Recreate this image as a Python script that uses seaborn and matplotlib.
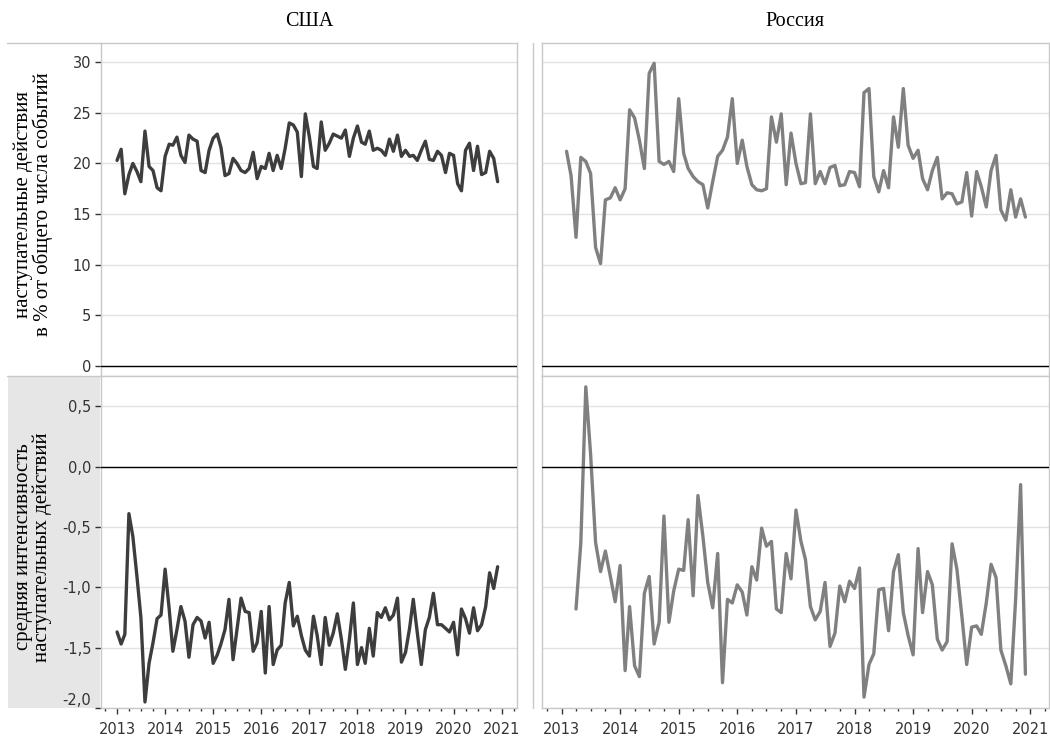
import matplotlib
matplotlib.use("Agg")
import matplotlib.pyplot as plt
import matplotlib.dates as mdates
from matplotlib.ticker import FuncFormatter
from matplotlib.patches import Rectangle
from matplotlib.lines import Line2D
import pandas as pd
import seaborn as sns

# monthly series
usa_share_start = "2013-01-01"
usa_share = [
    20.3, 21.4, 17.0, 18.9, 20.0, 19.2, 18.2, 23.2, 19.7, 19.3, 17.6, 17.3,
    20.7, 21.9, 21.8, 22.6, 20.8, 20.1, 22.8, 22.4, 22.2, 19.3, 19.1, 21.3,
    22.5, 22.9, 21.6, 18.8, 19.0, 20.5, 20.0, 19.3, 19.1, 19.5, 21.1, 18.5,
    19.7, 19.5, 21.0, 19.3, 20.8, 19.5, 21.5, 24.0, 23.8, 23.1, 18.7, 24.9,
    22.6, 19.7, 19.5, 24.1, 21.3, 22.0, 22.9, 22.7, 22.5, 23.3, 20.7, 22.5,
    23.7, 22.1, 21.9, 23.2, 21.3, 21.5, 21.3, 20.8, 22.4, 21.2, 22.8, 20.7,
    21.3, 20.7, 20.8, 20.3, 21.3, 22.2, 20.4, 20.3, 21.2, 20.8, 19.1, 21.0,
    20.8, 18.0, 17.3, 21.3, 22.0, 19.3, 21.7, 18.9, 19.1, 21.2, 20.5, 18.2,
]

usa_intensity_start = "2013-01-01"
usa_intensity = [
    -1.37, -1.47, -1.39, -0.39, -0.58, -0.91, -1.25, -1.95, -1.63, -1.46, -1.26, -1.23,
    -0.85, -1.18, -1.53, -1.35, -1.16, -1.28, -1.58, -1.31, -1.25, -1.28, -1.42, -1.29,
    -1.63, -1.56, -1.47, -1.35, -1.10, -1.60, -1.35, -1.09, -1.20, -1.21, -1.53, -1.46,
    -1.20, -1.71, -1.16, -1.64, -1.52, -1.48, -1.13, -0.96, -1.32, -1.24, -1.40, -1.52,
    -1.57, -1.24, -1.40, -1.64, -1.25, -1.48, -1.38, -1.22, -1.43, -1.68, -1.43, -1.13,
    -1.64, -1.50, -1.63, -1.34, -1.57, -1.21, -1.25, -1.17, -1.27, -1.23, -1.09, -1.62,
    -1.54, -1.34, -1.10, -1.38, -1.64, -1.35, -1.25, -1.05, -1.31, -1.31, -1.34, -1.37,
    -1.29, -1.56, -1.18, -1.26, -1.38, -1.17, -1.36, -1.31, -1.16, -0.88, -1.01, -0.83,
]

rus_share_start = "2013-02-01"
rus_share = [
    21.2, 18.8, 12.7, 20.6, 20.2, 19.0, 11.7, 10.1, 16.4, 16.6, 17.6,
    16.4, 17.5, 25.3, 24.5, 22.3, 19.5, 28.9, 29.9, 20.2, 19.9, 20.2, 19.2,
    26.4, 21.0, 19.5, 18.7, 18.2, 17.9, 15.6, 18.2, 20.7, 21.3, 22.6, 26.4,
    20.0, 22.3, 19.7, 17.9, 17.4, 17.3, 17.5, 24.6, 22.1, 24.9, 17.9, 23.0,
    20.0, 18.0, 18.1, 24.9, 18.0, 19.2, 18.0, 19.6, 19.8, 17.8, 17.9, 19.2,
    19.1, 17.7, 27.0, 27.4, 18.7, 17.2, 19.3, 17.6, 24.6, 21.6, 27.4, 21.8,
    20.5, 21.3, 18.5, 17.4, 19.3, 20.6, 16.5, 17.1, 17.0, 16.0, 16.2, 19.1,
    14.8, 19.2, 17.7, 15.7, 19.3, 20.8, 15.4, 14.4, 17.4, 14.7, 16.5, 14.7,
]

rus_intensity_start = "2013-04-01"
rus_intensity = [
    -1.18, -0.63, 0.66, 0.10, -0.63, -0.87, -0.70, -0.91, -1.12,
    -0.82, -1.69, -1.16, -1.65, -1.74, -1.05, -0.91, -1.47, -1.29, -0.41, -1.29, -1.03,
    -0.85, -0.86, -0.44, -1.07, -0.24, -0.58, -0.96, -1.17, -0.72, -1.79, -1.10, -1.13,
    -0.98, -1.04, -1.23, -0.83, -0.94, -0.51, -0.66, -0.62, -1.18, -1.21, -0.72, -0.93,
    -0.36, -0.62, -0.77, -1.16, -1.27, -1.20, -0.96, -1.49, -1.38, -0.99, -1.12, -0.95,
    -1.01, -0.84, -1.91, -1.64, -1.55, -1.02, -1.01, -1.36, -0.87, -0.73, -1.21, -1.40,
    -1.56, -0.68, -1.21, -0.87, -0.98, -1.43, -1.52, -1.45, -0.64, -0.85, -1.24, -1.64,
    -1.33, -1.32, -1.39, -1.13, -0.81, -0.92, -1.52, -1.65, -1.80, -1.10, -0.15, -1.72,
]

countries = ["США", "Россия"]
row_labels = ["наступательные действия\nв % от общего числа событий",
              "средняя интенсивность\nнаступательных действий"]
share_ticks = [0, 5, 10, 15, 20, 25, 30]
intensity_ticks = [-2.0, -1.5, -1.0, -0.5, 0.0, 0.5]


def monthly(start, values):
    return pd.DataFrame({"date": pd.date_range(start, periods=len(values), freq="MS"),
                         "value": values})


series = {
    ("США", 0): monthly(usa_share_start, usa_share),
    ("США", 1): monthly(usa_intensity_start, usa_intensity),
    ("Россия", 0): monthly(rus_share_start, rus_share),
    ("Россия", 1): monthly(rus_intensity_start, rus_intensity),
}
line_colors = {"США": "#3d3d3d", "Россия": "#808080"}

sns.set_theme(style="white")
plt.rcParams["font.family"] = ["DejaVu Sans"]

W, H = 1050, 737
fig = plt.figure(figsize=(W / 100, H / 100), dpi=100)

# panel boxes in pixels: (left, right) per column, (top, bottom) per row
cols = [(101, 517), (542, 1049)]
rows = [(43, 376), (376, 708)]
ylims = [(-1.0, 31.9), (-2.0, 0.75)]
frame_col = "#c8c8c8"

# grey backing behind the lower row label
fig.patches.append(Rectangle((8 / W, 1 - 708 / H), 92 / W, 332 / H,
                             transform=fig.transFigure, facecolor="#e6e6e6",
                             edgecolor="none", zorder=-5))
fig.add_artist(Line2D([7 / W, 101 / W], [1 - 43 / H, 1 - 43 / H],
                      color=frame_col, lw=1, zorder=-4))
fig.add_artist(Line2D([7 / W, 101 / W], [1 - 376 / H, 1 - 376 / H],
                      color=frame_col, lw=1, zorder=-4))
fig.add_artist(Line2D([533 / W, 533 / W], [1 - 43 / H, 1 - 708 / H],
                      color=frame_col, lw=1, zorder=-4))

for ci, country in enumerate(countries):
    x0, x1 = cols[ci]
    for ri in range(2):
        y0, y1 = rows[ri]
        ax = fig.add_axes([x0 / W, 1 - y1 / H, (x1 - x0) / W, (y1 - y0) / H])
        ax.set_facecolor("white")
        sns.lineplot(data=series[(country, ri)], x="date", y="value", ax=ax,
                     color=line_colors[country], lw=2.4)
        ax.axhline(0, color="black", lw=1, zorder=3)
        ax.set_ylim(*ylims[ri])
        ax.set_xlim(pd.Timestamp("2012-09-01"), pd.Timestamp("2021-04-27"))
        ax.set_yticks(share_ticks if ri == 0 else intensity_ticks)
        ax.yaxis.grid(True, color="#e2e2e2", lw=1)
        ax.set_axisbelow(True)
        for sp in ax.spines.values():
            sp.set_color(frame_col)
            sp.set_linewidth(1)
        ax.set_xlabel("")
        ax.set_ylabel("")

        ax.xaxis.set_major_locator(mdates.YearLocator())
        ax.xaxis.set_minor_locator(mdates.MonthLocator(bymonth=[4, 7, 10]))
        ax.xaxis.set_major_formatter(mdates.DateFormatter("%Y"))
        if ri == 1:
            ax.tick_params(axis="x", which="major", bottom=True, length=4, width=1,
                           color="#333333", labelsize=10.5, labelcolor="#333333", pad=6)
            ax.tick_params(axis="x", which="minor", bottom=True, length=2, width=1,
                           color="#333333")
        else:
            ax.tick_params(axis="x", which="both", bottom=False, labelbottom=False)

        if ci == 0:
            ax.tick_params(axis="y", left=True, length=4, width=1, color="#333333",
                           labelsize=10.5, labelcolor="#333333", pad=3)
            if ri == 1:
                ax.yaxis.set_major_formatter(
                    FuncFormatter(lambda v, p: f"{v:.1f}".replace(".", ",")))
                # lowest label sits inside the panel, as in the reference
                ax.get_yticklabels()[0].set_verticalalignment("bottom")
        else:
            ax.tick_params(axis="y", left=False, labelleft=False)

for ci, country in enumerate(countries):
    x0, x1 = cols[ci]
    fig.text((x0 + x1) / 2 / W, 1 - 22 / H, country, ha="center", va="center",
             family="Liberation Serif", fontsize=14.5, color="black")

label_y = [204, 547]
for ri, text in enumerate(row_labels):
    fig.text(33 / W, 1 - label_y[ri] / H, text, rotation=90, ha="center",
             va="center", multialignment="center", family="Liberation Serif",
             fontsize=15, linespacing=0.95, color="black")

fig.savefig("out.png", dpi=100)
